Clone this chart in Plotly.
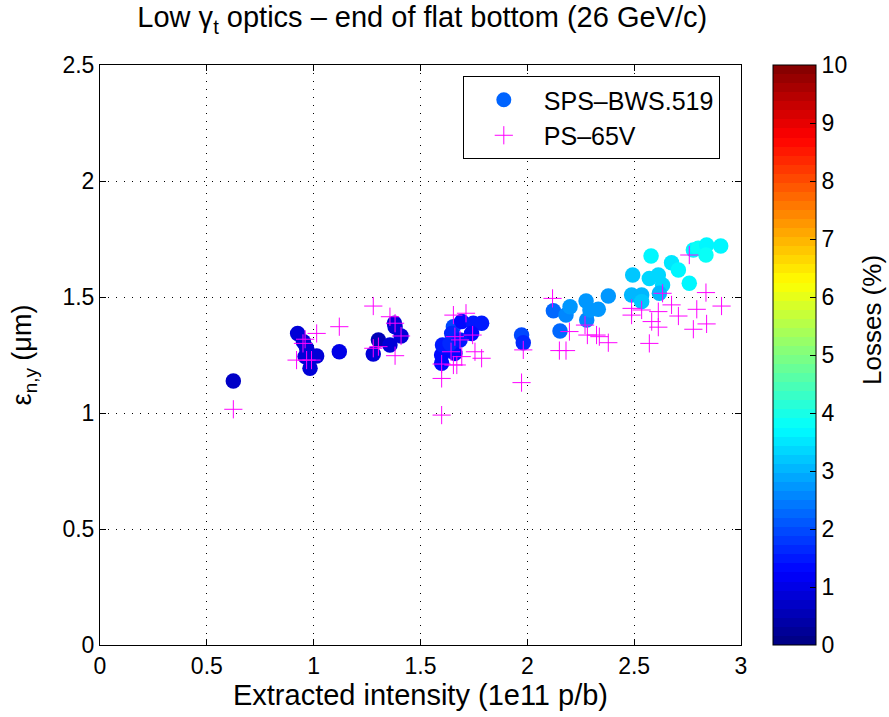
import plotly.graph_objects as go

# SPS-BWS.519 measurements (circles), colored by losses (%)
sps_intensity = [0.624, 0.925, 0.952, 0.967, 0.960, 1.014, 0.983, 1.120, 1.279, 1.303,
                 1.357, 1.378, 1.381, 1.409, 1.599, 1.599, 1.603, 1.654, 1.646, 1.693,
                 1.747, 1.786, 1.739, 1.661, 1.638, 1.685, 1.973, 1.981, 2.122, 2.181,
                 2.200, 2.153, 2.275, 2.278, 2.293, 2.332, 2.379, 2.493, 2.488, 2.535,
                 2.535, 2.579, 2.571, 2.613, 2.633, 2.618, 2.675, 2.707, 2.758, 2.777,
                 2.800, 2.839, 2.836, 2.905]
sps_emittance = [1.138, 1.343, 1.307, 1.279, 1.243, 1.246, 1.193, 1.264, 1.254, 1.315,
                 1.293, 1.387, 1.372, 1.332, 1.214, 1.250, 1.293, 1.372, 1.343, 1.394,
                 1.387, 1.387, 1.343, 1.257, 1.300, 1.315, 1.336, 1.303, 1.441, 1.422,
                 1.458, 1.353, 1.483, 1.401, 1.444, 1.447, 1.504, 1.595, 1.509, 1.509,
                 1.480, 1.677, 1.580, 1.595, 1.552, 1.516, 1.648, 1.616, 1.559, 1.703,
                 1.710, 1.724, 1.681, 1.720]
sps_losses = [0.7, 0.8, 0.8, 0.9, 0.9, 0.9, 0.8, 1.0, 0.9, 0.6,
              0.8, 0.9, 0.9, 0.9, 1.3, 1.4, 1.5, 1.9, 1.6, 1.3,
              1.5, 1.5, 1.4, 1.4, 1.6, 1.5, 1.9, 1.7, 2.2, 2.5,
              2.7, 2.2, 2.7, 2.5, 2.7, 2.8, 2.8, 3.2, 3.0, 3.1,
              3.2, 3.6, 3.3, 3.3, 3.3, 3.1, 3.5, 3.7, 3.7, 3.7,
              3.8, 3.6, 3.9, 3.7]

# PS-65V measurements (crosses)
ps_intensity = [0.624, 0.920, 0.967, 0.990, 0.960, 0.950, 1.014, 1.120, 1.279, 1.357,
                1.381, 1.409, 1.279, 1.303, 1.381, 1.599, 1.599, 1.599, 1.643, 1.654,
                1.670, 1.654, 1.713, 1.685, 1.661, 1.693, 1.744, 1.755, 1.786, 1.981,
                1.973, 2.118, 2.150, 2.181, 2.197, 2.270, 2.281, 2.324, 2.337, 2.379,
                2.488, 2.488, 2.535, 2.582, 2.613, 2.613, 2.571, 2.633, 2.675, 2.707,
                2.758, 2.777, 2.793, 2.836, 2.839, 2.909]
ps_emittance = [1.016, 1.228, 1.228, 1.228, 1.318, 1.300, 1.343, 1.372, 1.461, 1.415,
                1.387, 1.332, 1.279, 1.286, 1.247, 1.211, 1.149, 0.991, 1.264, 1.207,
                1.207, 1.422, 1.430, 1.315, 1.329, 1.243, 1.336, 1.264, 1.236, 1.272,
                1.131, 1.494, 1.269, 1.269, 1.351, 1.379, 1.336, 1.336, 1.329, 1.303,
                1.451, 1.422, 1.444, 1.394, 1.370, 1.437, 1.300, 1.516, 1.466, 1.418,
                1.681, 1.361, 1.447, 1.519, 1.384, 1.461]

x_ticks = [0, 0.5, 1, 1.5, 2, 2.5, 3]
y_ticks = [0, 0.5, 1, 1.5, 2, 2.5]
cbar_ticks = list(range(0, 11))

# MATLAB-like 64-band jet colormap
def jet(t):
    c = lambda v: max(0.0, min(1.0, v))
    r = c(1.5 - abs(4 * t - 3))
    g = c(1.5 - abs(4 * t - 2))
    b = c(1.5 - abs(4 * t - 1))
    return f"rgb({round(r*255)},{round(g*255)},{round(b*255)})"

N = 64
jet_scale = []
for i in range(N):
    col = jet((i + 0.5) / N)
    jet_scale.append([i / N, col])
    jet_scale.append([(i + 1) / N, col])

FONT = "Liberation Sans, Arial, sans-serif"

fig = go.Figure()
fig.add_trace(go.Scatter(
    x=sps_intensity, y=sps_emittance, mode="markers", showlegend=False,
    marker=dict(size=15.5, color=sps_losses, colorscale=jet_scale, cmin=0, cmax=10,
                line=dict(width=0),
                colorbar=dict(
                    x=1.05, xanchor="left", xpad=0, y=0.5, yanchor="middle", ypad=0,
                    len=1, lenmode="fraction", thickness=43, thicknessmode="pixels",
                    outlinecolor="black", outlinewidth=1,
                    tickvals=cbar_ticks, ticks="inside", ticklen=6, tickcolor="black",
                    tickfont=dict(family=FONT, size=23, color="black"),
                )),
))
fig.add_trace(go.Scatter(
    x=ps_intensity, y=ps_emittance, mode="markers", showlegend=False,
    marker=dict(symbol="cross-thin", size=13, color="magenta",
                line=dict(width=1, color="magenta")),
))
# legend entries
fig.add_trace(go.Scatter(
    x=[None], y=[None], mode="markers", name="SPS\u2013BWS.519",
    marker=dict(size=15, color="rgb(0,100,255)"),
))
fig.add_trace(go.Scatter(
    x=[None], y=[None], mode="markers", name="PS\u201365V",
    marker=dict(symbol="cross-thin", size=13, color="magenta",
                line=dict(width=1, color="magenta")),
))

axis_common = dict(
    showline=True, linecolor="black", linewidth=1, mirror="ticks",
    ticks="inside", ticklen=6, tickcolor="black",
    showgrid=True, gridcolor="black", gridwidth=1, griddash="1px,7px",
    zeroline=False, tickfont=dict(family=FONT, size=23, color="black"),
)

fig.update_layout(
    width=889, height=717,
    margin=dict(l=100, r=148, t=65, b=72),
    paper_bgcolor="white", plot_bgcolor="white",
    font=dict(family=FONT, color="black"),
    title=dict(text="Low \u03b3<sub>t</sub> optics \u2013 end of flat bottom (26 GeV/c)",
               x=0.475, xanchor="center", y=0.99, yanchor="top",
               font=dict(family=FONT, size=29, color="black")),
    xaxis=dict(range=[0, 3], tickvals=x_ticks, ticktext=[str(v) for v in x_ticks],
               title=dict(text="Extracted intensity (1e11 p/b)", standoff=4,
                          font=dict(family=FONT, size=29, color="black")),
               **axis_common),
    yaxis=dict(range=[0, 2.5], tickvals=y_ticks, ticktext=[str(v) for v in y_ticks],
               title=dict(text="\u03b5<sub>n,y</sub> (\u03bcm)", standoff=22,
                          font=dict(family=FONT, size=27, color="black")),
               **axis_common),
    legend=dict(x=0.566, y=0.981, xanchor="left", yanchor="top",
                bgcolor="white", bordercolor="black", borderwidth=1,
                font=dict(family=FONT, size=25, color="black"),
                itemwidth=70, tracegroupgap=0,
                entrywidth=290, entrywidthmode="pixels"),
    annotations=[dict(text="Losses (%)", textangle=-90, showarrow=False,
                      xref="paper", yref="paper",
                      x=(872 - 100) / 641, y=(645 - 320) / 580,
                      xanchor="center", yanchor="middle",
                      font=dict(family=FONT, size=26, color="black"))],
)

fig.write_html("out.html")
